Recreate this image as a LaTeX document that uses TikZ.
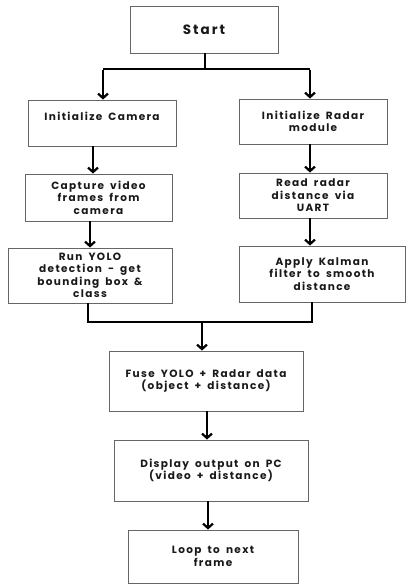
\documentclass[tikz,border=0pt]{standalone}
\usepackage{fontspec}
\setmainfont{Poppins}
\newfontfamily\boxfont{Poppins}[LetterSpace=13,WordSpace=1.7]
\newfontfamily\startfont{Poppins}[LetterSpace=15]
\usetikzlibrary{arrows.meta}
\begin{document}
\begin{tikzpicture}[x=1pt,y=-1pt,
  box/.style={draw=black!60, line width=0.9pt, inner sep=0pt, align=center,
    font=\boxfont\bfseries\fontsize{10.5}{12.5}\selectfont, text=black!90},
  arr/.style={line width=2.4pt, -{Straight Barb[length=4.5pt,width=10pt,line width=2.2pt]}},
  ln/.style={line width=2.2pt}]
\useasboundingbox (0,0) rectangle (408,584);
\node[box, minimum width=148pt, minimum height=47pt, font=\startfont\bfseries\fontsize{13.5}{15}\selectfont] (start) at (204,29.5) {Start};
\node[box, minimum width=148pt, minimum height=46pt] (cam) at (102,123) {Initialize Camera\\\mbox{}};
\node[box, minimum width=148pt, minimum height=45pt] (rinit) at (313,121.5) {Initialize Radar\\module};
\node[box, minimum width=147pt, minimum height=47pt] (cap) at (98.5,197.5) {Capture video\\frames from\\camera};
\node[box, minimum width=148pt, minimum height=45pt] (read) at (313,195.5) {Read radar\\distance via\\UART};
\node[box, minimum width=164pt, minimum height=55pt] (yolo) at (90,275.5) {Run YOLO\\detection - get\\bounding box \&\\class};
\node[box, minimum width=166pt, minimum height=56pt] (kal) at (322,274) {Apply Kalman\\filter to smooth\\distance};
\node[box, minimum width=194pt, minimum height=60pt] (fuse) at (206,381) {Fuse YOLO + Radar data\\(object + distance)};
\node[box, minimum width=194pt, minimum height=61pt] (disp) at (211,470.5) {Display output on PC\\(video + distance)};
\node[box, minimum width=170pt, minimum height=53pt] (loop) at (213,556.5) {Loop to next\\frame};
% split from start
\coordinate (j1) at (205,69);
\draw[ln] ([xshift=1pt]start.south) -- (j1);
\coordinate (jl) at (103,69);
\coordinate (jr) at (310,69);
\draw[ln] (jl) -- (jr);
\draw[arr] ([yshift=-1.1pt]jl) -- (jl |- cam.north);
\draw[arr] ([yshift=-1.1pt]jr) -- (jr |- rinit.north);
% left chain
\draw[arr] ([xshift=-9pt]cam.south) -- ([xshift=-9pt]cam.south |- cap.north);
\draw[arr] ([xshift=-8.5pt]cap.south) -- ([xshift=-8.5pt]cap.south |- yolo.north);
% right chain
\draw[arr] ([xshift=-3pt]rinit.south) -- ([xshift=-3pt]rinit.south |- read.north);
\draw[arr] ([xshift=-3pt]read.south) -- ([xshift=-3pt]read.south |- kal.north);
% merge
\coordinate (ml) at (88,322);
\coordinate (mr) at (312,322);
\coordinate (mc) at (202,322);
\draw[ln] (ml |- yolo.south) -- (ml) -- (mr) -- (mr |- kal.south);
\draw[arr] ([yshift=-1.1pt]mc) -- (mc |- fuse.north);
\draw[arr] ([xshift=1pt]fuse.south) -- ([xshift=1pt]fuse.south |- disp.north);
\draw[arr] ([xshift=-3pt]disp.south) -- ([xshift=-3pt]disp.south |- loop.north);
\end{tikzpicture}
\end{document}
